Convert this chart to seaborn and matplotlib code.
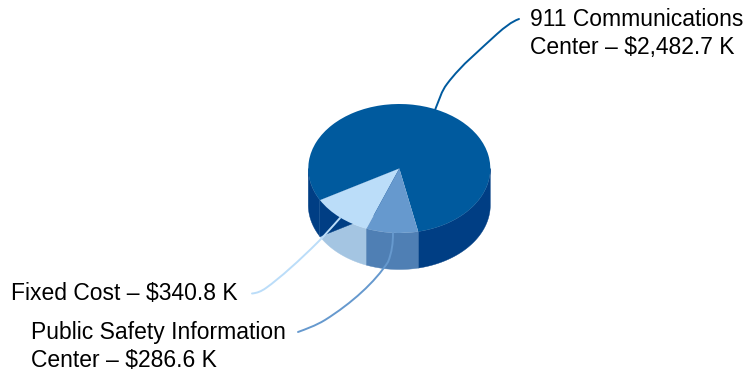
import numpy as np
import matplotlib
matplotlib.use("Agg")
import matplotlib.pyplot as plt
from matplotlib.path import Path
from matplotlib.patches import PathPatch, Polygon
import seaborn as sns

# Budget split, in thousands of dollars
names = ["911 Communications\nCenter", "Fixed Cost", "Public Safety Information\nCenter"]
values = [2482.7, 340.8, 286.6]
top_colors = ["#005A9E", "#BBDDF9", "#6699CE"]
side_colors = ["#003E84", "#A4C5E2", "#4F7FB4"]
leader_colors = ["#005A9E", "#BBDDF9", "#6699CE"]

sns.set_theme(style="white")
plt.rcParams["font.family"] = ["Liberation Sans", "DejaVu Sans"]

W, H = 745, 372
fig = plt.figure(figsize=(W / 100, H / 100), dpi=100, facecolor="white")
ax = fig.add_axes([0, 0, 1, 1])

# Disc geometry in pixels; y is stretched so a round pie draws as an ellipse
SQUASH = 64.5 / 91
CX, CY, R = 399.3, (H - 168.5) / SQUASH, 91
DEPTH = 36.5 / SQUASH
START = 282.0

angles = START + np.concatenate([[0], np.cumsum(values)]) / sum(values) * 360


def rim(a, drop=0.0):
    a = np.radians(a)
    return np.column_stack([CX + R * np.cos(a), CY + R * np.sin(a) - drop])


# Outer wall: only the part facing the viewer (180-360 degrees) is visible
for i in range(len(values)):
    for turn in (0, 360):
        lo = max(angles[i] - turn, 180)
        hi = min(angles[i + 1] - turn, 360)
        if hi <= lo:
            continue
        arc = np.linspace(lo, hi, 80)
        ax.add_patch(Polygon(np.vstack([rim(arc), rim(arc[::-1], DEPTH)]),
                             closed=True, fc=side_colors[i], ec=side_colors[i], lw=0.3))

# Cut face of the large slice, seen through the gap above the Fixed Cost wall
cut = angles[1]
ax.add_patch(Polygon(np.vstack([rim([cut]), rim([cut], DEPTH), [[CX, CY - DEPTH]], [[CX, CY]]]),
                     closed=True, fc=side_colors[0], ec=side_colors[0], lw=0.3))

# Top face
ax.pie(values, colors=sns.color_palette(top_colors), startangle=START, counterclock=True,
       center=(CX, CY), radius=R, frame=True, wedgeprops={"lw": 0})
ax.set_aspect("auto")
ax.set_xlim(0, W)
ax.set_ylim(0, H / SQUASH)
ax.set_xticks([])
ax.set_yticks([])
for s in ax.spines.values():
    s.set_visible(False)


def px(pts):
    pts = np.asarray(pts, float)
    return np.column_stack([pts[:, 0], (H - pts[:, 1]) / SQUASH])


def leader(pts, color):
    codes = [Path.MOVETO] + [Path.CURVE4] * (len(pts) - 1)
    ax.add_patch(PathPatch(Path(px(pts), codes), fc="none", ec=color, lw=1.4, capstyle="round"))


leader([(435, 110), (440, 98), (441, 92), (447, 84),
        (462, 64), (480, 50), (497, 34),
        (505, 27), (511, 22), (519, 19)], leader_colors[0])
leader([(340, 218), (332, 227), (325, 235), (318, 242),
        (300, 260), (280, 278), (266, 288),
        (261, 291.5), (257, 293), (252, 293.5)], leader_colors[1])
leader([(393, 233), (393, 243), (392, 252), (388, 262),
        (375, 282), (352, 303), (325, 320),
        (315, 326), (306, 329), (298, 332)], leader_colors[2])


def label(i, x, y):
    # y is the pixel position of the block's top edge
    ax.text(x, (H - y) / SQUASH, f"{names[i]} – ${values[i]:,.1f} K", fontsize=16.45, color="#000000",
            ha="left", va="top", linespacing=1.27)


label(0, 530, 8)
label(1, 11, 282)
label(2, 31, 321)

fig.savefig("out.png", dpi=100, facecolor="white")
